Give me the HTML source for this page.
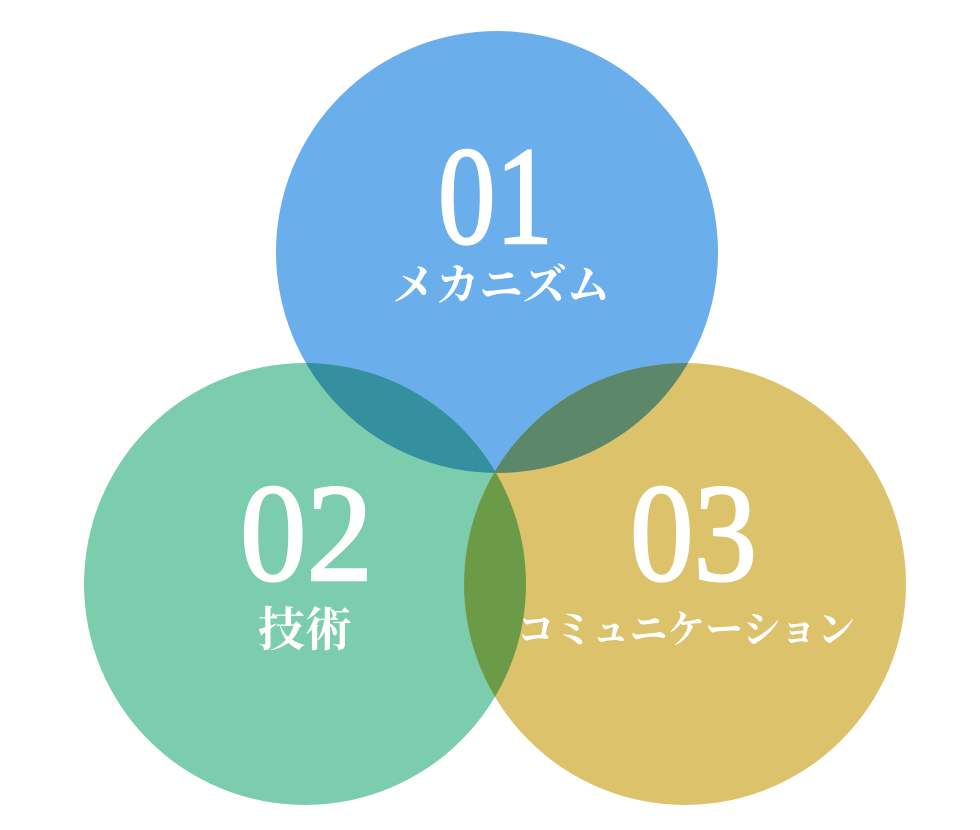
<!DOCTYPE html>
<html><head><meta charset="utf-8"><style>
html,body{margin:0;padding:0;background:#fff;}
svg{display:block;}
.n{font-family:"Liberation Serif",serif;fill:#fff;stroke:#fff;stroke-width:2.5;font-size:140px;}
.j{font-family:"Liberation Serif","Noto Serif CJK SC",serif;fill:#fff;font-weight:bold;}
</style></head><body>
<svg width="980" height="830" viewBox="0 0 980 830">
<defs>
<clipPath id="c1"><circle cx="497" cy="252" r="221"/></clipPath>
<clipPath id="c2"><circle cx="305" cy="584" r="221"/></clipPath>
</defs>
<circle cx="497" cy="252" r="221" fill="#6aafeb"/>
<circle cx="305" cy="584" r="221" fill="#7bcdad"/>
<circle cx="685" cy="584" r="221" fill="#ddc26c"/>
<circle cx="305" cy="584" r="221" fill="#34909f" clip-path="url(#c1)"/>
<circle cx="685" cy="584" r="221" fill="#5c8768" clip-path="url(#c1)"/>
<circle cx="685" cy="584" r="221" fill="#6b9b47" clip-path="url(#c2)"/>
<text class="n" x="438" y="243" textLength="115" lengthAdjust="spacingAndGlyphs">01</text>
<text class="j" x="392" y="300" font-size="44" textLength="218" lengthAdjust="spacingAndGlyphs">メカニズム</text>
<text class="n" x="240" y="580" textLength="133" lengthAdjust="spacingAndGlyphs">02</text>
<text class="j" x="258" y="646" font-size="47" textLength="94" lengthAdjust="spacingAndGlyphs">技術</text>
<text class="n" x="630" y="580" textLength="127" lengthAdjust="spacingAndGlyphs">03</text>
<text class="j" x="517" y="643" font-size="39" textLength="338" lengthAdjust="spacingAndGlyphs">コミュニケーション</text>
</svg>
</body></html>
